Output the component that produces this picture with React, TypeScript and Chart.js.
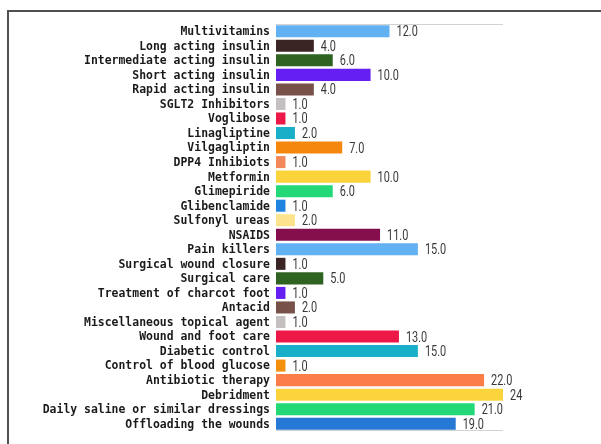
import React, { useEffect, useRef } from "react";
import { Chart, registerables } from "chart.js";

Chart.register(...registerables);

const categories: string[] = [
  "Multivitamins",
  "Long acting insulin",
  "Intermediate acting insulin",
  "Short acting insulin",
  "Rapid acting insulin",
  "SGLT2 Inhibitors",
  "Voglibose",
  "Linagliptine",
  "Vilgagliptin",
  "DPP4 Inhibiots",
  "Metformin",
  "Glimepiride",
  "Glibenclamide",
  "Sulfonyl ureas",
  "NSAIDS",
  "Pain killers",
  "Surgical wound closure",
  "Surgical care",
  "Treatment of charcot foot",
  "Antacid",
  "Miscellaneous topical agent",
  "Wound and foot care",
  "Diabetic control",
  "Control of blood glucose",
  "Antibiotic therapy",
  "Debridment",
  "Daily saline or similar dressings",
  "Offloading the wounds",
];

const counts: number[] = [
  12, 4, 6, 10, 4, 1, 1, 2, 7, 1, 10, 6, 1, 2, 11, 15, 1, 5, 1, 2, 1, 13, 15, 1, 22, 24, 21, 19,
];

const barColors: string[] = [
  "#62b1f2",
  "#3b2424",
  "#2f6322",
  "#651ff2",
  "#77514a",
  "#c4c0c0",
  "#ee1848",
  "#1aafc9",
  "#f5870f",
  "#f3885a",
  "#fbd43c",
  "#22d877",
  "#2083e0",
  "#fde38c",
  "#840f4c",
  "#62b1f2",
  "#3b2424",
  "#2f6322",
  "#651ff2",
  "#77514a",
  "#c4c0c0",
  "#ee1848",
  "#1aafc9",
  "#f5900f",
  "#fb7d48",
  "#fbd43c",
  "#22d877",
  "#2578d4",
];

// rows whose count is printed without a decimal place
const wholeNumberRows: string[] = ["Debridment"];

const axisMax = 24;

const formatCount = (label: string, v: number) =>
  wholeNumberRows.includes(label) ? String(v) : v.toFixed(1);

const edgeLines = {
  id: "edgeLines",
  afterDatasetsDraw(chart: any) {
    const { ctx, chartArea } = chart;
    ctx.save();
    ctx.strokeStyle = "#d2d2d2";
    ctx.lineWidth = 1;
    ctx.beginPath();
    ctx.moveTo(chartArea.left, chartArea.top + 0.5);
    ctx.lineTo(chartArea.right, chartArea.top + 0.5);
    ctx.moveTo(chartArea.left, chartArea.bottom - 0.5);
    ctx.lineTo(chartArea.right, chartArea.bottom - 0.5);
    ctx.stroke();
    ctx.restore();
  },
};

// category names in a narrowed monospace face, placed at the y scale's tick positions
const condensedTicks = {
  id: "condensedTicks",
  afterDraw(chart: any) {
    const { ctx, chartArea } = chart;
    const yScale = chart.scales.y;
    const squeeze = 0.88;
    ctx.save();
    ctx.fillStyle = "#1a1a1a";
    ctx.font = "bold 13px 'DejaVu Sans Mono', monospace";
    ctx.textAlign = "right";
    ctx.textBaseline = "middle";
    yScale.ticks.forEach((_t: any, i: number) => {
      const y = yScale.getPixelForTick(i);
      const label = String(yScale.getLabelForValue(i));
      ctx.save();
      ctx.translate(chartArea.left - 6, y + 0.5);
      ctx.scale(squeeze, 1);
      ctx.fillText(label, 0, 0);
      ctx.restore();
    });
    ctx.restore();
  },
};

// count printed just past the end of each bar
const valueLabels = {
  id: "valueLabels",
  afterDatasetsDraw(chart: any) {
    const { ctx } = chart;
    const meta = chart.getDatasetMeta(0);
    const squeeze = 0.78;
    ctx.save();
    ctx.fillStyle = "#383838";
    ctx.font = "14px 'Liberation Sans Narrow', 'Roboto', sans-serif";
    ctx.textAlign = "left";
    ctx.textBaseline = "middle";
    meta.data.forEach((bar: any, i: number) => {
      const text = formatCount(categories[i], counts[i]);
      ctx.save();
      ctx.translate(bar.x + 7, bar.y + 1.5);
      ctx.scale(squeeze, 1);
      ctx.fillText(text, 0, 0);
      ctx.restore();
    });
    ctx.restore();
  },
};

export default function App() {
  const canvasRef = useRef<HTMLCanvasElement | null>(null);

  useEffect(() => {
    if (!canvasRef.current) return;
    const chart = new Chart(canvasRef.current, {
      type: "bar",
      data: {
        labels: categories,
        datasets: [
          {
            data: counts,
            backgroundColor: barColors,
            borderWidth: 0,
            barPercentage: 0.9,
            categoryPercentage: 0.92,
          },
        ],
      },
      options: {
        indexAxis: "y",
        animation: false,
        responsive: false,
        maintainAspectRatio: false,
        layout: { padding: { top: 24, bottom: 13, right: 98, left: 0 } },
        plugins: {
          legend: { display: false },
          tooltip: { enabled: false },
        },
        scales: {
          x: {
            display: false,
            min: 0,
            max: axisMax,
          },
          y: {
            afterFit(scale: any) {
              scale.width = 276;
            },
            grid: { display: false },
            border: { display: false },
            ticks: {
              autoSkip: false,
              padding: 6,
              color: "rgba(0,0,0,0)",
              font: { family: "'DejaVu Sans Mono', monospace", size: 11, weight: "bold" },
            },
          },
        },
      },
      plugins: [edgeLines, valueLabels, condensedTicks],
    });
    return () => chart.destroy();
  }, []);

  return (
    <div
      style={{
        position: "fixed",
        left: 0,
        top: 0,
        width: 601,
        height: 444,
        overflow: "hidden",
        background: "#ffffff",
      }}
    >
      <div
        style={{
          position: "absolute",
          left: 7,
          top: 10,
          width: 700,
          height: 600,
          borderLeft: "2px solid #505050",
          borderTop: "2px solid #505050",
        }}
      />
      <canvas ref={canvasRef} width={601} height={444} style={{ position: "absolute", left: 0, top: 0 }} />
    </div>
  );
}
